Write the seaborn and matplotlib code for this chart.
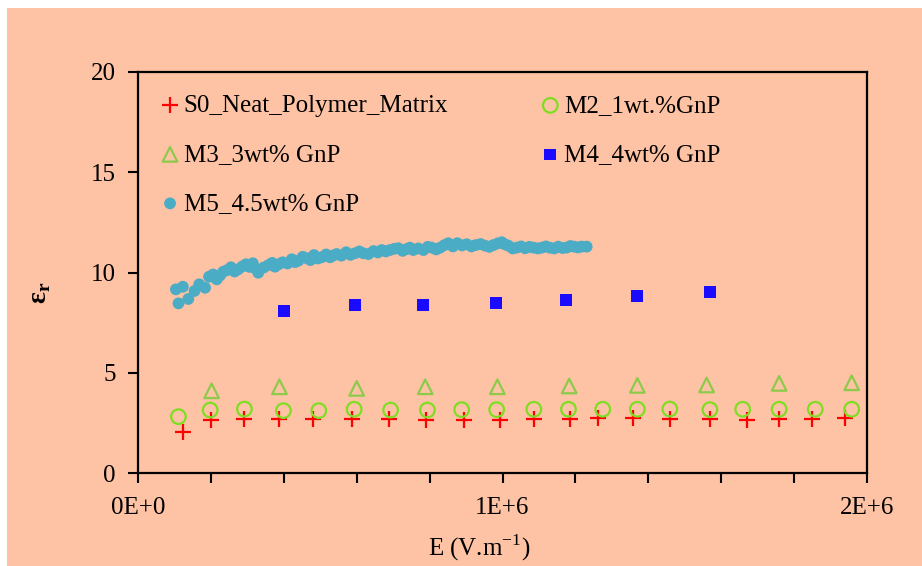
import numpy as np
import pandas as pd
import seaborn as sns
import matplotlib.pyplot as plt
from matplotlib.patches import Rectangle
from matplotlib.ticker import MultipleLocator, FixedLocator, FixedFormatter

# values (E in V/m, relative permittivity)
s0_x = [0.124e6, 0.199e6, 0.292e6, 0.386e6, 0.481e6, 0.587e6, 0.688e6, 0.790e6, 0.894e6, 0.993e6,
        1.086e6, 1.185e6, 1.261e6, 1.359e6, 1.459e6, 1.569e6, 1.670e6, 1.759e6, 1.849e6, 1.940e6]
s0_y = [2.06, 2.64, 2.68, 2.69, 2.71, 2.69, 2.68, 2.64, 2.64, 2.64,
        2.68, 2.69, 2.73, 2.74, 2.71, 2.68, 2.66, 2.69, 2.71, 2.73]

m2_x = [0.111e6, 0.198e6, 0.292e6, 0.399e6, 0.496e6, 0.593e6, 0.693e6, 0.794e6, 0.888e6, 0.984e6,
        1.086e6, 1.181e6, 1.275e6, 1.370e6, 1.459e6, 1.569e6, 1.659e6, 1.759e6, 1.858e6, 1.958e6]
m2_y = [2.81, 3.14, 3.19, 3.11, 3.11, 3.18, 3.14, 3.14, 3.16, 3.16,
        3.18, 3.18, 3.18, 3.18, 3.19, 3.16, 3.18, 3.18, 3.18, 3.18]

m3_x = [0.202e6, 0.388e6, 0.600e6, 0.788e6, 0.986e6, 1.183e6, 1.370e6, 1.560e6, 1.759e6, 1.958e6]
m3_y = [4.10, 4.30, 4.22, 4.30, 4.30, 4.34, 4.37, 4.39, 4.47, 4.50]

m4_x = [0.400e6, 0.595e6, 0.782e6, 0.982e6, 1.174e6, 1.369e6, 1.569e6]
m4_y = [8.08, 8.38, 8.38, 8.48, 8.63, 8.83, 9.03]

m5_x = [0.104e6, 0.111e6, 0.123e6, 0.138e6, 0.155e6, 0.168e6, 0.184e6, 0.195e6, 0.206e6, 0.216e6,
        0.225e6, 0.234e6, 0.245e6, 0.255e6, 0.265e6, 0.275e6, 0.286e6, 0.296e6, 0.306e6, 0.315e6,
        0.322e6, 0.330e6, 0.345e6, 0.358e6, 0.368e6, 0.376e6, 0.387e6, 0.397e6, 0.410e6, 0.422e6,
        0.431e6, 0.440e6, 0.452e6, 0.463e6, 0.473e6, 0.483e6, 0.494e6, 0.504e6, 0.516e6, 0.527e6,
        0.536e6, 0.545e6, 0.558e6, 0.571e6, 0.583e6, 0.595e6, 0.607e6, 0.618e6, 0.632e6, 0.646e6,
        0.658e6, 0.669e6, 0.680e6, 0.691e6, 0.703e6, 0.714e6, 0.726e6, 0.737e6, 0.746e6, 0.755e6,
        0.769e6, 0.783e6, 0.795e6, 0.806e6, 0.818e6, 0.829e6, 0.840e6, 0.851e6, 0.864e6, 0.876e6,
        0.889e6, 0.902e6, 0.915e6, 0.927e6, 0.940e6, 0.952e6, 0.964e6, 0.975e6, 0.987e6, 0.998e6,
        1.007e6, 1.016e6, 1.028e6, 1.039e6, 1.051e6, 1.062e6, 1.074e6, 1.085e6, 1.097e6, 1.108e6,
        1.119e6, 1.130e6, 1.142e6, 1.153e6, 1.165e6, 1.176e6, 1.186e6, 1.196e6, 1.207e6, 1.217e6,
        1.231e6]
m5_y = [9.16, 8.46, 9.29, 8.68, 9.08, 9.41, 9.24, 9.79, 9.90, 9.66,
        9.85, 10.04, 10.12, 10.26, 10.05, 10.16, 10.30, 10.41, 10.28, 10.46,
        10.20, 9.99, 10.25, 10.37, 10.48, 10.29, 10.42, 10.51, 10.45, 10.66,
        10.52, 10.59, 10.78, 10.71, 10.62, 10.87, 10.70, 10.76, 10.90, 10.76,
        10.85, 10.92, 10.84, 11.01, 10.88, 10.96, 11.05, 10.96, 10.92, 11.07,
        11.00, 11.12, 11.05, 11.12, 11.18, 11.21, 11.08, 11.17, 11.24, 11.12,
        11.20, 11.12, 11.28, 11.24, 11.15, 11.24, 11.36, 11.46, 11.30, 11.46,
        11.35, 11.41, 11.30, 11.37, 11.42, 11.34, 11.28, 11.37, 11.45, 11.51,
        11.40, 11.34, 11.20, 11.24, 11.30, 11.21, 11.28, 11.24, 11.20, 11.24,
        11.30, 11.24, 11.20, 11.29, 11.22, 11.24, 11.32, 11.29, 11.25, 11.29,
        11.29]

labels = ["S0_Neat_Polymer_Matrix", "M2_1wt.%GnP", "M3_3wt% GnP", "M4_4wt% GnP", "M5_4.5wt% GnP"]

sns.set_theme(style="ticks")
plt.rcParams["font.family"] = ["Liberation Serif", "DejaVu Serif"]
plt.rcParams["mathtext.fontset"] = "custom"
plt.rcParams["mathtext.rm"] = "Liberation Serif"
plt.rcParams["mathtext.bf"] = "Liberation Serif:bold"
plt.rcParams["text.color"] = "black"
plt.rcParams["axes.labelcolor"] = "black"

peach = "#FEC2A4"
fs = 18
fig = plt.figure(figsize=(9.22, 5.66), dpi=100, facecolor="white")
fig.patches.append(Rectangle((7 / 922, 0), 1, 1 - 8 / 566, transform=fig.transFigure,
                             facecolor=peach, edgecolor="none", zorder=-10))
ax = fig.add_axes([138 / 922, 1 - 473 / 566, 729 / 922, 401 / 566])
ax.set_facecolor(peach)

sns.scatterplot(x=s0_x, y=s0_y, ax=ax, marker="+", s=130, color="#FF0000", linewidth=1.6, label=labels[0])
sns.scatterplot(x=m2_x, y=m2_y, ax=ax, marker="o", s=110, color="#7FDD22", facecolor="none",
                edgecolor="#7FDD22", linewidth=1.6, label=labels[1])
sns.scatterplot(x=m3_x, y=m3_y, ax=ax, marker="^", s=110, color="#8CCB4A", facecolor="none",
                edgecolor="#8CCB4A", linewidth=1.6, label=labels[2])
sns.scatterplot(x=m4_x, y=m4_y, ax=ax, marker="s", s=70, color="#1A0AFF", edgecolor="none", label=labels[3])
sns.scatterplot(x=m5_x, y=m5_y, ax=ax, marker="o", s=72, color="#4BACC6", edgecolor="none", label=labels[4])

ax.set_xlim(0, 2e6)
ax.set_ylim(0, 20)
ax.xaxis.set_major_locator(FixedLocator([0, 1e6, 2e6]))
ax.xaxis.set_major_formatter(FixedFormatter(["0E+0", "1E+6", "2E+6"]))
ax.xaxis.set_minor_locator(MultipleLocator(2e5))
ax.yaxis.set_major_locator(MultipleLocator(5))
ax.tick_params(axis="both", which="both", direction="out", length=7, width=1.5, colors="black",
               labelsize=fs)
ax.tick_params(axis="x", which="both", pad=10)
ax.tick_params(axis="y", which="both", pad=9)
for side in ["left", "bottom", "top", "right"]:
    ax.spines[side].set_visible(True)
    ax.spines[side].set_color("black")
    ax.spines[side].set_linewidth(1.6)

ax.set_xlabel("E (V.m$^{\\mathregular{-1}}$)", fontsize=fs)
ax.xaxis.set_label_coords(0.468, -0.148)
ax.set_ylabel("ε$_\\mathbf{r}$", fontsize=20, fontweight="bold")
ax.yaxis.set_label_coords(-0.116, 0.45)

handles, labs = ax.get_legend_handles_labels()
order = [0, 2, 4, 1, 3]
ax.legend([handles[i] for i in order], [labs[i] for i in order], ncols=2, frameon=False,
          loc="upper left", bbox_to_anchor=(0.0165, 0.969), borderaxespad=0,
          fontsize=fs, labelspacing=1.06, handlelength=0.8, handletextpad=0.15, columnspacing=3.68)

fig.savefig("out.png", dpi=100, facecolor="white")
